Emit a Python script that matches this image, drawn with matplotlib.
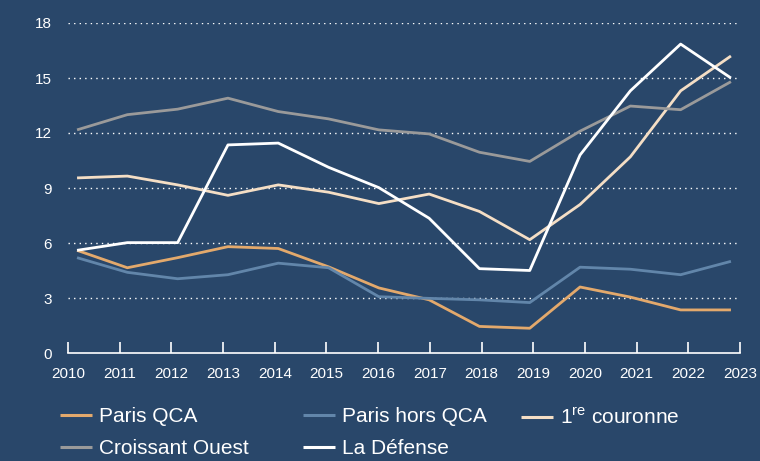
import numpy as np
import matplotlib
matplotlib.use("Agg")
import matplotlib.pyplot as plt

# Data
years = list(range(2010, 2024))
paris_qca = [5.6, 4.65, 5.2, 5.8, 5.7, 4.7, 3.55, 2.9, 1.45, 1.35, 3.6, 3.05, 2.35, 2.35]
paris_hors_qca = [5.2, 4.4, 4.05, 4.27, 4.9, 4.65, 3.07, 2.98, 2.9, 2.75, 4.68, 4.57, 4.27, 5.0]
premiere_couronne = [9.55, 9.65, 9.17, 8.6, 9.17, 8.77, 8.15, 8.67, 7.72, 6.18, 8.1, 10.7, 14.3, 16.2]
croissant_ouest = [12.17, 13.0, 13.3, 13.9, 13.17, 12.77, 12.17, 11.95, 10.95, 10.45, 12.1, 13.47, 13.27, 14.8]
la_defense = [5.6, 6.02, 6.02, 11.35, 11.45, 10.13, 9.02, 7.35, 4.6, 4.5, 10.8, 14.3, 16.85, 15.0]

series_labels = ["Paris QCA", "Paris hors QCA", "1$^{\\rm re}$ couronne",
                 "Croissant Ouest", "La Défense"]
series_values = [paris_qca, paris_hors_qca, premiere_couronne, croissant_ouest, la_defense]
series_colors = ["#E3A96C", "#6286AA", "#F4DEC5", "#9A9A9A", "#FFFFFF"]

y_ticks = [0, 3, 6, 9, 12, 15, 18]

BG = "#29476A"
plt.rcParams['font.family'] = ['Liberation Sans', 'DejaVu Sans']
plt.rcParams['mathtext.fontset'] = 'custom'
plt.rcParams['mathtext.rm'] = 'Liberation Sans'

fig = plt.figure(figsize=(7.6, 4.61), dpi=100, facecolor=BG)
ax = fig.add_axes([68 / 760, 108 / 461, 672 / 760, 330 / 461])
ax.set_facecolor(BG)

lines = []
for vals, lab, col in zip(series_values, series_labels, series_colors):
    ln, = ax.plot(years, vals, color=col, lw=2.0, label=lab, solid_capstyle='butt',
                  clip_on=False)
    lines.append(ln)

# the tick marks sit slightly outside the first/last data points
pad = 0.18
ax.set_xlim(years[0] - pad, years[-1] + pad)
ax.set_ylim(0, 18)
ax.set_xticks(np.linspace(years[0] - pad, years[-1] + pad, len(years)))
ax.set_xticklabels([str(y) for y in years])
ax.set_yticks(y_ticks)
ax.set_yticklabels([str(t) for t in y_ticks])

for t in y_ticks[1:]:
    ax.axhline(t, color="white", lw=1.0, ls=(0, (1, 3)), zorder=0)

for s in ["top", "right", "left"]:
    ax.spines[s].set_visible(False)
ax.spines["bottom"].set_color("white")
ax.spines["bottom"].set_linewidth(1.2)

ax.tick_params(axis="x", direction="in", length=8, width=1.2, color="white",
               labelcolor="white", labelsize=11, pad=10)
ax.tick_params(axis="y", length=0, labelcolor="white", labelsize=11, pad=11.5)

# one legend per column so the columns sit where the reference puts them
columns = [([0, 3], 60), ([1, 4], 303), ([2], 521)]
for idx, x0 in columns:
    leg = fig.legend([lines[i] for i in idx], [series_labels[i] for i in idx],
                     loc="upper left", bbox_to_anchor=(x0 / 760, 1 - 407 / 461),
                     frameon=False, fontsize=15, handlelength=1.55,
                     handletextpad=0.34, labelspacing=0.62,
                     borderaxespad=0, borderpad=0)
    for t in leg.get_texts():
        t.set_color("white")
    for h in leg.get_lines():
        h.set_linewidth(2.2)

fig.savefig("out.png", dpi=100, facecolor=BG)
